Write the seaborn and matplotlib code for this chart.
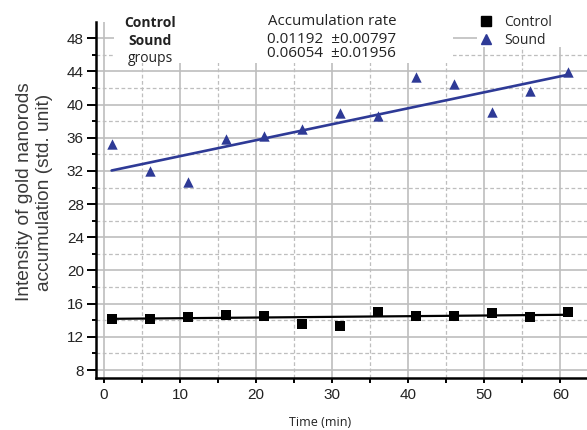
"""
Gold nanorod accumulation over time — Control vs Sound groups
Scatter + linear fit per group, grey major/minor grid
"""

import numpy as np
import matplotlib.pyplot as plt
import matplotlib.patches as mpatches
from matplotlib.lines import Line2D
from matplotlib.ticker import MultipleLocator, FixedLocator
import seaborn as sns

# ── Data ───────────────────────────────────────────────────────────────────
time_min = [1, 6, 11, 16, 21, 26, 31, 36, 41, 46, 51, 56, 61]
control  = [14.13, 14.2, 14.39, 14.65, 14.55, 13.55, 13.34, 14.97, 14.5, 14.5, 14.92, 14.39, 14.95]
sound    = [35.3, 32.0, 30.7, 35.9, 36.2, 37.1, 39.0, 38.6, 43.3, 42.5, 39.06, 41.6, 43.9]

# fitted lines as drawn in the figure (end points)
fit_time    = [1, 61]
control_fit = [14.17, 14.66]
sound_fit   = [32.05, 43.6]

rate_title = "Accumulation rate"
rate_lines = ["0.01192  \u00b10.00797", "0.06054  \u00b10.01956"]

# ── Palette ────────────────────────────────────────────────────────────────
C_CTRL  = "#000000"
C_SOUND = "#2E3A96"
C_GRID  = "#BEBEBE"
C_TEXT  = "#222222"
TEXT_FONT = ["Open Sans", "DejaVu Sans"]
AXIS_FONT = ["Liberation Sans", "DejaVu Sans"]

sns.set_style("white")
plt.rcParams["font.family"] = AXIS_FONT

# ── Figure ─────────────────────────────────────────────────────────────────
fig, ax = plt.subplots(figsize=(5.87, 4.30), dpi=100)
fig.subplots_adjust(left=96.4 / 587, right=1.0,
                    bottom=(430 - 378.3) / 430, top=(430 - 22.45) / 430)

# fit lines
sns.lineplot(x=fit_time, y=control_fit, ax=ax, color=C_CTRL, lw=1.6, zorder=2)
sns.lineplot(x=fit_time, y=sound_fit, ax=ax, color=C_SOUND, lw=1.9, zorder=2)

# data points
sns.scatterplot(x=time_min, y=control, ax=ax, marker="s", color=C_CTRL,
                s=44, linewidth=0, zorder=3)
sns.scatterplot(x=time_min, y=sound, ax=ax, marker="^", color=C_SOUND,
                s=56, linewidth=0, zorder=3)

ax.set_xlim(-1, 63.5)
ax.set_ylim(7, 49.9)

# ── Ticks & grid ───────────────────────────────────────────────────────────
ax.xaxis.set_major_locator(MultipleLocator(10))
ax.xaxis.set_minor_locator(MultipleLocator(5))
ax.yaxis.set_major_locator(FixedLocator(np.arange(8, 49, 4)))
ax.yaxis.set_minor_locator(FixedLocator(np.arange(10, 47, 4)))

ax.set_axisbelow(True)
ax.grid(which="major", color=C_GRID, lw=1.2, ls="-")
ax.grid(which="minor", color=C_GRID, lw=0.9, ls=(0, (3, 2)))

ax.tick_params(axis="both", which="both", direction="out", color="black",
               width=1.4, labelsize=11, labelcolor=C_TEXT)
ax.tick_params(axis="y", which="major", length=6.5, left=True, pad=2.5)
ax.tick_params(axis="y", which="minor", length=3, left=True)
ax.tick_params(axis="x", which="both", length=3.8, bottom=True, pad=3)

for side in ("top", "right"):
    ax.spines[side].set_visible(False)
for side in ("left", "bottom"):
    ax.spines[side].set_color("black")
    ax.spines[side].set_linewidth(1.8)

# ── Labels ─────────────────────────────────────────────────────────────────
ax.set_xlabel("Time (min)", fontsize=9, family=TEXT_FONT, color=C_TEXT, va="center")
ax.xaxis.set_label_coords((320 - 96.4) / 490.6, (378.3 - 423) / 355.85)
ax.set_ylabel("Intensity of gold nanorods\naccumulation (std. unit)",
              fontsize=13.8, color="#3A3A3A", va="center")
ax.yaxis.set_label_coords((34.5 - 96.4) / 490.6, (378.3 - 192) / 355.85)

# white panels behind the header text and legend (hide the grid there)
ax.add_patch(mpatches.Rectangle((0.036, 0.886), 0.691, 0.2,
                                transform=ax.transAxes, facecolor="white",
                                edgecolor="none", zorder=1))
ax.add_patch(mpatches.Rectangle((0.776, 0.931), 0.3, 0.2,
                                transform=ax.transAxes, facecolor="white",
                                edgecolor="none", zorder=1))

ax.text(0.109, 0.999, "Control", transform=ax.transAxes, ha="center", va="center",
        fontsize=10, fontweight="bold", family=TEXT_FONT, color=C_TEXT)
ax.text(0.109, 0.948, "Sound", transform=ax.transAxes, ha="center", va="center",
        fontsize=10, fontweight="bold", family=TEXT_FONT, color=C_TEXT)
ax.text(0.109, 0.898, "groups", transform=ax.transAxes, ha="center", va="center",
        fontsize=10, family=TEXT_FONT, color=C_TEXT)

ax.text(0.480, 1.004, rate_title, transform=ax.transAxes, ha="center", va="center",
        fontsize=10.8, family=TEXT_FONT, color=C_TEXT)
ax.text(0.480, 0.953, rate_lines[0], transform=ax.transAxes, ha="center", va="center",
        fontsize=11, family=TEXT_FONT, color=C_TEXT)
ax.text(0.480, 0.912, rate_lines[1], transform=ax.transAxes, ha="center", va="center",
        fontsize=11, family=TEXT_FONT, color=C_TEXT)

# ── Legend ─────────────────────────────────────────────────────────────────
handles = [
    Line2D([], [], ls="none", marker="s", ms=6.5, color=C_CTRL, label="Control"),
    Line2D([], [], ls="none", marker="^", ms=7.5, color=C_SOUND, label="Sound"),
]
leg = ax.legend(handles=handles, loc="upper right", bbox_to_anchor=(0.951, 1.052),
                frameon=False, prop={"family": TEXT_FONT, "size": 10},
                handlelength=1.0, handletextpad=0.8, labelspacing=0.2,
                borderpad=0.3)
leg.set_zorder(5)

plt.savefig("out.png", dpi=100)
